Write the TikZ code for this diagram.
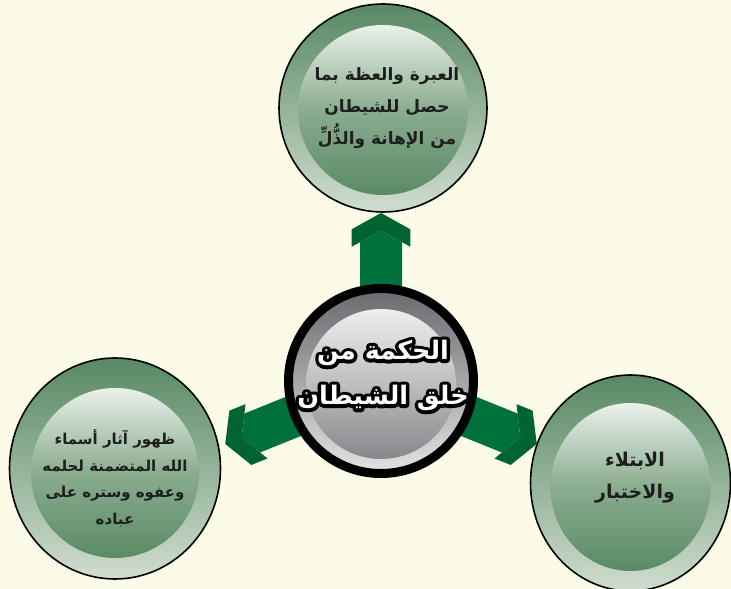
\documentclass[tikz,border=0pt]{standalone}
\usepackage{fontspec}
\usetikzlibrary{shapes.geometric}
\newfontfamily\arabicfont[Script=Arabic]{DejaVu Sans}
\TeXXeTstate=1
\definecolor{bgcol}{RGB}{252,251,232}
\definecolor{shaftcol}{RGB}{0,112,60}
\definecolor{headcol}{RGB}{0,100,50}
\definecolor{ringtop}{RGB}{88,137,99}
\definecolor{ringbot}{RGB}{208,221,207}
\definecolor{intop}{RGB}{234,241,235}
\definecolor{inmid}{RGB}{138,172,143}
\definecolor{inbot}{RGB}{90,139,101}
\definecolor{gringtop}{RGB}{105,105,110}
\definecolor{gringbot}{RGB}{228,228,228}
\definecolor{gintop}{RGB}{238,238,238}
\definecolor{ginmid}{RGB}{190,190,192}
\definecolor{ginbot}{RGB}{135,135,140}
\definecolor{txtcol}{RGB}{30,30,30}
\tikzset{
  outerdisk/.style={ellipse, draw=black, line width=1.6pt, inner sep=0pt,
    top color=ringtop, bottom color=ringbot},
  innerdisk/.style={ellipse, inner sep=0pt,
    top color=intop, bottom color=inbot, middle color=inmid},
  sidetext/.style={align=center, text=txtcol, font=\arabicfont\bfseries\fontsize{17}{32}\selectfont},
  centtext/.style={align=center, font=\arabicfont\bfseries\fontsize{25.5}{45}\selectfont},
  headshape/.style={fill=headcol},
  shaftshape/.style={fill=shaftcol}
}
\newcommand{\blockarrow}{%
  \fill[shaftshape] (90,21) -- (138.8,21) -- (150.3,0) -- (138.8,-21) -- (90,-21) -- cycle;
  \fill[headshape] (151.7,29.3) -- (168,0) -- (151.7,-29.3) -- (134.3,-29.3) -- (150.3,0) -- (134.3,29.3) -- cycle;
}
\newcommand{\strokeon}{\special{pdf:code 2 Tr 7 w 1 j 0 0 0 RG}}
\newcommand{\strokeoff}{\special{pdf:code 0 Tr}}
\begin{document}
\begin{tikzpicture}[x=1pt,y=1pt]
\useasboundingbox (0,0) rectangle (731,589);
\clip (0,0) rectangle (731,589);
\fill[bgcol] (0,0) rectangle (731,589);
% centre reference
\coordinate (cen) at (381,208);
% arrows
\begin{scope}[shift={(cen)}, rotate=90] \blockarrow \end{scope}
\begin{scope}[shift={(cen)}, rotate=202] \blockarrow \end{scope}
\begin{scope}[shift={(cen)}, rotate=-22] \blockarrow \end{scope}
% top circle
\node[outerdisk, minimum width=208pt, minimum height=208pt] (topc) at (383,481) {};
\node[innerdisk, minimum width=170pt, minimum height=170pt] (topi) at (383,479) {};
\node[sidetext] (topt) at (387,481) {\beginR العبرة والعظة بما\endR\\\beginR حصل للشيطان\endR\\\beginR من الإهانة والذُّلِّ\endR};
% left circle
\node[outerdisk, minimum width=211pt, minimum height=221pt] (leftc) at (115,120.5) {};
\node[innerdisk, minimum width=168pt, minimum height=170pt] (lefti) at (115,116) {};
\node[sidetext, font=\arabicfont\bfseries\fontsize{15}{26.5}\selectfont] (leftt) at (115,110.5) {\beginR ظهور آثار أسماء\endR\\\beginR الله المتضمنة لحلمه\endR\\\beginR وعفوه  وستره على\endR\\\beginR عباده\endR};
% right circle
\node[outerdisk, minimum width=200pt, minimum height=216pt] (rightc) at (630.5,106) {};
\node[innerdisk, minimum width=160pt, minimum height=168pt] (righti) at (630.5,102) {};
\node[sidetext, font=\arabicfont\bfseries\fontsize{19}{32}\selectfont] (rightt) at (635,111) {\beginR الابتلاء\endR\\\beginR والاختبار\endR};
% central circle
\node[circle, draw=black, line width=9pt, inner sep=0pt, minimum size=185pt,
  top color=gringtop, bottom color=gringbot] (cenc) at (cen) {};
\node[circle, inner sep=0pt, minimum size=150pt,
  top color=gintop, bottom color=ginbot, middle color=ginmid] (ceni) at ([yshift=-3pt]cen) {};
\node[centtext, text=black] (centb) at (383,213.5) {\strokeon\beginR الحكمة من\endR\strokeoff\\\strokeon\beginR خلق الشيطان\endR\strokeoff};
\node[centtext, text=white] (centt) at (centb.center) {\beginR الحكمة من\endR\\\beginR خلق الشيطان\endR};
\end{tikzpicture}
\end{document}
